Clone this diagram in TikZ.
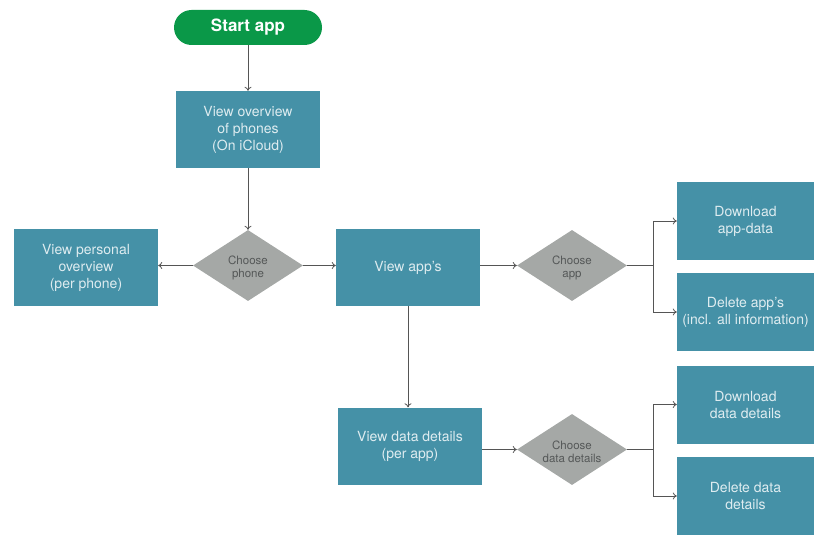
\documentclass[tikz,border=0pt]{standalone}
\usepackage{fontspec}
\setmainfont{TeX Gyre Heros}
\usetikzlibrary{shapes.geometric,arrows.meta}
\definecolor{teal}{RGB}{69,145,167}
\definecolor{boxtext}{RGB}{222,236,240}
\definecolor{appgreen}{RGB}{10,152,72}
\definecolor{dgray}{RGB}{165,168,166}
\definecolor{dtext}{RGB}{85,88,88}
\definecolor{line}{RGB}{85,85,85}
\begin{document}
\begin{tikzpicture}[x=1pt,y=-1pt,
  box/.style={fill=teal,draw=none,minimum width=144pt,minimum height=77pt,inner sep=0pt,align=center,
    text=boxtext,font=\fontsize{14}{17}\selectfont},
  rbox/.style={box,minimum width=137pt,minimum height=78pt},
  choice/.style={diamond,fill=dgray,draw=none,minimum width=110pt,minimum height=71pt,inner sep=0pt,
    aspect=1.55,align=center,text=dtext,font=\fontsize{11.5}{13}\selectfont},
  ctext/.style={text=dtext,font=\fontsize{11.5}{13}\selectfont,align=center,inner sep=0pt},
  conn/.style={draw=line,line width=0.8pt,-{To[length=4pt,width=7pt]}},
  plain/.style={draw=line,line width=0.8pt}]
\useasboundingbox (0,0) rectangle (814,535);
\node[fill=appgreen,rounded corners=17.5pt,minimum width=148pt,minimum height=35pt,inner sep=0pt,
  text=white,font=\fontsize{17}{19}\selectfont\bfseries] (start) at (248,27.5) {Start app};
\node[box] (overview) at (248,129.5) {View overview\\of phones\\(On iCloud)};
\node[choice] (phone) at (248,265.5) {};
\node[ctext] (phonet) at (248,268) {Choose\\phone};
\node[box] (personal) at (86,267.5) {View personal\\overview\\(per phone)};
\node[box] (apps) at (408,267.5) {View app's};
\node[choice] (app) at (572,265.5) {};
\node[ctext] (appt) at (572,268) {Choose\\app};
\node[rbox] (dlapp) at (745.5,221) {Download\\app-data};
\node[rbox] (delapp) at (745.5,312) {Delete app's\\(incl. all information)};
\node[box] (details) at (410,446) {View data details\\(per app)};
\node[choice] (ddet) at (572,449.5) {};
\node[ctext] (ddett) at (572,452) {Choose\\data details};
\node[rbox] (dldet) at (745.5,404.5) {Download\\data details};
\node[rbox] (deldet) at (745.5,496) {Delete data\\details};
\coordinate (b1) at (653,265.5);
\coordinate (b2) at (653,449.5);
\draw[conn] (start) -- (overview);
\draw[conn] (overview) -- (phone);
\draw[conn] (phone.west) -- (phone.west -| personal.east);
\draw[conn] (phone.east) -- (phone.east -| apps.west);
\draw[conn] (apps.east |- app.west) -- (app.west);
\draw[conn] (apps.south) -- (apps.south |- details.north);
\draw[conn] (details.east |- ddet.west) -- (ddet.west);
\draw[plain] (app.east) -- (b1);
\draw[conn] (b1) |- (dlapp.west);
\draw[conn] (b1) |- (delapp.west);
\draw[plain] (ddet.east) -- (b2);
\draw[conn] (b2) |- (dldet.west);
\draw[conn] (b2) |- (deldet.west);
\end{tikzpicture}
\end{document}
